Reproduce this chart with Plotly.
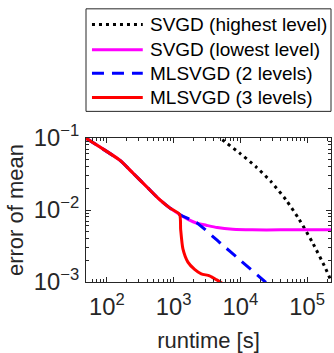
import plotly.graph_objects as go

# Shared coarse-level curve (SVGD on the lowest level) up to the split point
base_t = [48.6, 78.7, 156, 247, 391, 618, 873, 1230]
base_err = [0.0994, 0.0748, 0.0492, 0.0324, 0.0212, 0.0139, 0.0107, 0.00867]

# SVGD (lowest level): saturates after the split
low_t = base_t + [1700, 2183, 3077, 4500, 7690, 15000, 40000, 100000, 228000]
low_err = base_err + [0.0073, 0.0066, 0.00614, 0.0057, 0.0054, 0.0053, 0.0053, 0.0053, 0.0053]

# SVGD (highest level)
high_t = [4500, 5150, 9680, 17140, 28700, 48100, 76000, 120000, 190000, 226000, 240000]
high_err = [0.11, 0.0975, 0.062, 0.0398, 0.0248, 0.0139, 0.00741, 0.00356, 0.00153, 0.00106, 0.00095]

# MLSVGD (2 levels)
ml2_t = base_t + [1700, 2183, 5000, 10000, 23650, 30000]
ml2_err = base_err + [0.0075, 0.00675, 0.00348, 0.0020, 0.0010, 0.00083]

# MLSVGD (3 levels)
ml3_t = base_t + [1274, 1378, 1636, 2061, 2594, 3451, 4345, 5163, 5600]
ml3_err = base_err + [0.0054, 0.00288, 0.00189, 0.0015, 0.0013, 0.00122, 0.00108, 0.00098, 0.00092]

labels = ["SVGD (highest level)", "SVGD (lowest level)", "MLSVGD (2 levels)", "MLSVGD (3 levels)"]
colors = ["#000000", "#ff00ff", "#0000ff", "#ff0000"]
dashes = ["3px,4px", "solid", "12px,8px", "solid"]

FONT = "Liberation Sans, Arial, Helvetica, sans-serif"
AX = "#262626"

fig = go.Figure()
series = [(high_t, high_err), (low_t, low_err), (ml2_t, ml2_err), (ml3_t, ml3_err)]
for (t, e), name, c, d in zip(series, labels, colors, dashes):
    fig.add_trace(go.Scatter(x=t, y=e, mode="lines", name=name,
                             line=dict(color=c, width=3, dash=d, shape="spline", smoothing=0.6),
                             showlegend=False))

axis_common = dict(
    type="log", showline=True, linecolor=AX, linewidth=1, mirror="allticks",
    ticks="inside", ticklen=5, tickcolor=AX, showgrid=False, zeroline=False,
    exponentformat="power", dtick=1,
    tickfont=dict(family=FONT, size=19, color=AX),
    minor=dict(ticks="inside", ticklen=3, tickcolor=AX, showgrid=False),
)

fig.update_xaxes(range=[1.687, 5.358], ticklabelstandoff=4,
                 title=dict(text="runtime [s]", font=dict(family=FONT, size=22, color=AX), standoff=16),
                 **axis_common)
fig.update_yaxes(range=[-3, -1], ticklabelstandoff=2,
                 title=dict(text="error of mean", font=dict(family=FONT, size=22, color=AX), standoff=4),
                 **axis_common)

# Legend box drawn above the axes
shapes = [dict(type="rect", xref="paper", yref="paper", x0=0, x1=1, y0=1.185, y1=1.897,
               line=dict(color=AX, width=1), fillcolor="white")]
rows = [1.788, 1.613, 1.449, 1.281]
annotations = []
for yrow, name, c, d in zip(rows, labels, colors, dashes):
    shapes.append(dict(type="line", xref="paper", yref="paper", x0=0.0244, x1=0.2317,
                       y0=yrow, y1=yrow, line=dict(color=c, width=3, dash=d)))
    annotations.append(dict(xref="paper", yref="paper", x=0.252, y=yrow, text=name,
                            showarrow=False, xanchor="left", yanchor="middle",
                            font=dict(family=FONT, size=19, color="#000000")))

fig.update_layout(
    width=334, height=353,
    margin=dict(l=86, r=2, t=138, b=69),
    paper_bgcolor="white", plot_bgcolor="white",
    shapes=shapes, annotations=annotations,
)

fig.write_html("out.html")
